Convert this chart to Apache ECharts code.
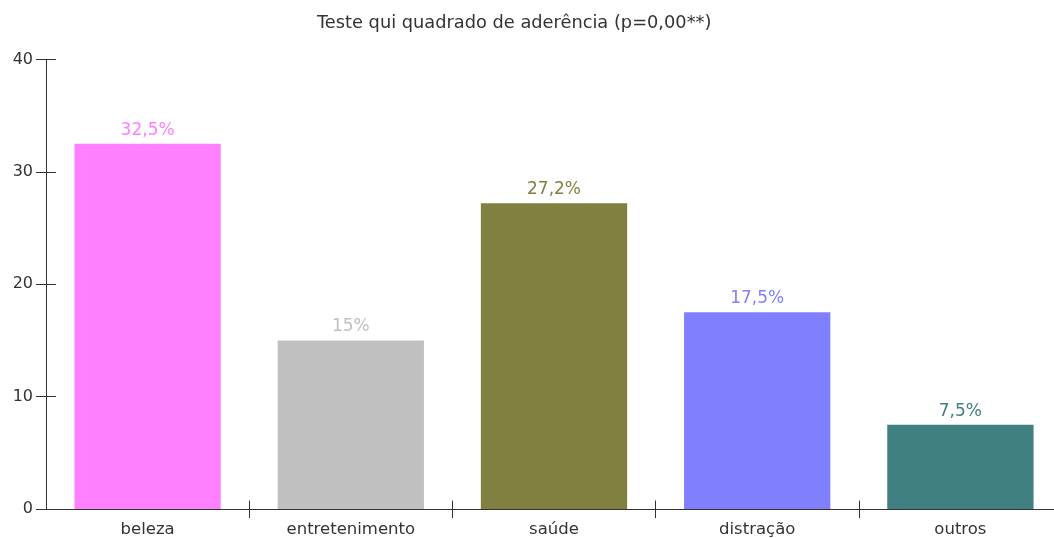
<!DOCTYPE html>
<html>
<head>
<meta charset="utf-8">
<script src="https://cdn.jsdelivr.net/npm/echarts@6/dist/echarts.min.js"></script>
<style>
  html, body { margin: 0; padding: 0; background: #fff; overflow: hidden; }
  #chart { width: 1064px; height: 538px; }
</style>
</head>
<body>
<div id="chart"></div>
<script>
const categories = ['beleza', 'entretenimento', 'saúde', 'distração', 'outros'];
const values = [32.5, 15, 27.2, 17.5, 7.5];
const colors = ['#ff80ff', '#c0c0c0', '#808040', '#8080ff', '#408080'];
const yTicks = [0, 10, 20, 30, 40];

const chart = echarts.init(document.getElementById('chart'));

const axisColor = '#333';
const font = 'DejaVu Sans';
const plotW = 1016;
const plotH = 450;
// the plot runs past the right edge of the window, as in the original
const skipFirst = i => i !== 0;
const option = {
  animation: false,
  title: {
    text: 'Teste qui quadrado de aderência (p=0,00**)',
    left: 312,
    top: 9,
    textStyle: { fontFamily: font, fontSize: 17.8, fontWeight: 'normal', color: '#333' }
  },
  grid: { left: 46, top: 59.5, width: plotW, height: plotH },
  xAxis: [
    {
      type: 'category',
      data: categories,
      position: 'bottom',
      axisLine: { show: true, lineStyle: { color: axisColor, width: 1 } },
      axisTick: { show: true, length: 9, interval: skipFirst, lineStyle: { color: axisColor } },
      axisLabel: { fontFamily: font, fontSize: 16.5, color: '#333', margin: 12 }
    },
    {
      // inner half of the crossing ticks
      type: 'category',
      data: categories,
      position: 'top',
      offset: -plotH,
      axisLine: { show: false },
      axisTick: { show: true, length: 9, interval: skipFirst, lineStyle: { color: axisColor } },
      axisLabel: { show: false }
    }
  ],
  yAxis: [
    {
      type: 'value',
      position: 'left',
      min: yTicks[0],
      max: yTicks[yTicks.length - 1],
      interval: 10,
      splitLine: { show: false },
      axisLine: { show: true, lineStyle: { color: axisColor } },
      axisTick: { show: true, length: 10, lineStyle: { color: axisColor } },
      axisLabel: { fontFamily: font, fontSize: 16, color: '#333', margin: 13 }
    },
    {
      type: 'value',
      position: 'right',
      offset: -plotW,
      min: yTicks[0],
      max: yTicks[yTicks.length - 1],
      interval: 10,
      splitLine: { show: false },
      axisLine: { show: false },
      axisTick: { show: true, length: 10, lineStyle: { color: axisColor } },
      axisLabel: { show: false }
    }
  ],
  series: [{
    type: 'bar',
    barCategoryGap: '28%',
    data: values.map((v, i) => ({
      value: v,
      itemStyle: { color: colors[i] },
      label: { color: colors[i] }
    })),
    label: {
      show: true,
      position: 'top',
      distance: 5,
      fontFamily: font,
      fontSize: 17,
      formatter: p => String(p.value).replace('.', ',') + '%'
    }
  }]
};
chart.setOption(option);
</script>
</body>
</html>
